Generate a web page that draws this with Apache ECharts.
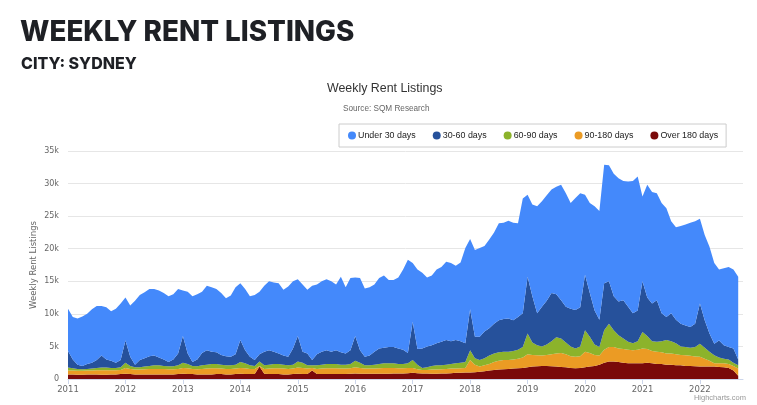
<!DOCTYPE html>
<html>
<head>
<meta charset="utf-8">
<script src="https://cdn.jsdelivr.net/npm/echarts@6/dist/echarts.min.js"></script>
<style>
html,body{margin:0;padding:0;background:#fff;}
#chart{width:757px;height:405px;}
</style>
</head>
<body>
<div id="chart"></div>
<script>
// Monthly readings, Jan 2011 .. Sep 2022
const years = ['2011','2012','2013','2014','2015','2016','2017','2018','2019','2020','2021','2022'];
const months = ['01','02','03','04','05','06','07','08','09','10','11','12'];

const under30 = [
 6500, 6500, 7100, 7600, 7700, 8200, 8300, 7600, 8000, 7600, 8300, 8700,
 6600, 7900, 9800, 10000, 10100, 10300, 10200, 10300, 10200, 10100, 10000, 9900,
 7000, 9500, 10100, 10000, 9400, 9900, 9900, 9700, 9500, 8900, 9400, 10300,
 8700, 9400, 9300, 10000, 9600, 10100, 10600, 10600, 10800, 10100, 10800, 10300,
 8700, 10300, 9800, 11400, 10700, 10800, 10900, 10800, 10100, 11600, 10200, 11100,
 9000, 11100, 10500, 10500, 10300, 10800, 11100, 10300, 10300, 10900, 12300, 14300,
 9000, 12200, 11600, 10600, 10700, 11300, 11500, 12000, 12000, 11400, 12100, 14600,
 10800, 13300, 13600, 13100, 13600, 14000, 14900, 14800, 15000, 15000, 14400, 17600,
 12600, 14100, 16400, 16200, 16200, 15900, 16500, 17700, 17400, 16200, 17200, 17500,
 12300, 13800, 16000, 16700, 18200, 17800, 18800, 18900, 18300, 19200, 20300, 20600,
 13000, 17300, 17100, 16400, 16900, 16700, 14100, 14200, 15000, 15500, 16000, 15700,
 13000, 13100, 13300, 12400, 10900, 11800, 12300, 12100, 12700
];
const d30to60 = [
 2550, 1350, 650, 500, 750, 900, 1200, 1850, 1250, 1100, 800, 1100,
 3400, 1400, 400, 1100, 1300, 1500, 1500, 1200, 1000, 650, 1050, 1800,
 4100, 1600, 600, 1050, 1900, 2200, 1900, 1800, 1500, 1400, 1300, 1600,
 3400, 2000, 1300, 900, 1100, 2100, 2200, 1900, 1600, 1400, 1300, 2500,
 3900, 1700, 1800, 800, 1700, 2000, 2100, 1900, 2100, 1900, 1700, 2100,
 3800, 1900, 1300, 1500, 2000, 2400, 2400, 2500, 2500, 2400, 2200, 1600,
 5900, 2400, 3000, 3200, 3200, 3400, 3600, 3800, 3500, 3600, 3300, 2900,
 6300, 3300, 3600, 4100, 4200, 4600, 4900, 5000, 5100, 4700, 5000, 5200,
 8700, 7100, 4900, 6100, 6700, 7400, 6600, 5900, 5500, 5800, 5900, 6000,
 8500, 6700, 5200, 4200, 7200, 6500, 5200, 5200, 5900, 5400, 4600, 4700,
 7800, 5900, 5800, 6400, 4300, 3500, 4300, 3600, 3500, 3300, 3200, 3600,
 6200, 4200, 2800, 1750, 2600, 2100, 1900, 2200, 900
];
const d60to90 = [
 450, 350, 300, 250, 250, 300, 350, 400, 400, 350, 350, 400,
 800, 450, 350, 350, 400, 450, 550, 550, 450, 450, 450, 550,
 800, 650, 450, 450, 550, 600, 650, 650, 600, 550, 550, 600,
 900, 750, 550, 450, 700, 550, 600, 650, 650, 600, 550, 600,
 950, 800, 500, 400, 550, 600, 650, 650, 650, 600, 600, 650,
 1000, 800, 500, 500, 600, 650, 700, 700, 700, 650, 650, 700,
 1200, 700, 300, 400, 550, 650, 600, 650, 700, 800, 850, 900,
 1500, 1000, 1000, 1100, 1300, 1300, 1300, 1300, 1300, 1300, 1400, 1600,
 3200, 1900, 1550, 1400, 1600, 2000, 2500, 2200, 1800, 1500, 1300, 1500,
 3300, 2500, 1600, 1300, 3000, 3600, 2600, 2000, 1600, 1200, 1100, 1300,
 2500, 2000, 1500, 1500, 1700, 2100, 1900, 1700, 1300, 1250, 1250, 1450,
 2000, 1700, 1400, 1250, 900, 700, 700, 500, 500
];
const d90to180 = [
 600, 600, 600, 600, 600, 600, 650, 700, 700, 650, 650, 650,
 900, 800, 750, 750, 800, 850, 850, 850, 850, 800, 800, 800,
 900, 900, 800, 800, 850, 900, 950, 900, 850, 850, 850, 850,
 900, 900, 800, 800, 100, 750, 850, 900, 900, 900, 850, 850,
 950, 950, 850, 400, 800, 850, 900, 900, 900, 850, 850, 850,
 950, 900, 800, 800, 800, 850, 900, 900, 850, 800, 800, 800,
 750, 600, 550, 550, 650, 650, 650, 700, 700, 650, 700, 700,
 1900, 1150, 800, 900, 1000, 1200, 1350, 1400, 1350, 1400, 1450, 1600,
 2000, 1800, 1700, 1600, 1700, 1850, 2000, 2150, 2000, 1800, 1750, 1800,
 2400, 2100, 1700, 1400, 2000, 2200, 2200, 2100, 2100, 2100, 2000, 2100,
 2300, 2100, 1900, 1900, 1800, 1700, 1700, 1700, 1600, 1650, 1550, 1500,
 1500, 1200, 900, 500, 550, 600, 600, 700, 1100
];
const over180 = [
 700, 700, 650, 650, 700, 700, 700, 650, 650, 700, 700, 750,
 800, 750, 700, 700, 700, 700, 700, 700, 700, 700, 700, 750,
 800, 750, 750, 700, 700, 700, 700, 750, 750, 700, 700, 750,
 800, 750, 750, 750, 1900, 800, 750, 750, 750, 700, 700, 750,
 800, 750, 750, 1300, 750, 750, 750, 750, 750, 750, 750, 800,
 850, 800, 800, 800, 800, 800, 800, 800, 850, 850, 850, 900,
 950, 900, 850, 850, 800, 800, 850, 850, 900, 950, 950, 1000,
 1000, 1050, 1100, 1200, 1300, 1400, 1450, 1500, 1550, 1600, 1650, 1700,
 1800, 1900, 1950, 2000, 2000, 1950, 1900, 1850, 1800, 1700, 1650, 1700,
 1800, 1900, 2000, 2200, 2500, 2700, 2700, 2600, 2500, 2400, 2400, 2400,
 2400, 2500, 2400, 2300, 2300, 2200, 2200, 2100, 2100, 2000, 2000, 1950,
 1900, 1900, 1900, 1900, 1850, 1800, 1700, 1300, 500
];
const yTicks = [0, 5000, 10000, 15000, 20000, 25000, 30000, 35000];

const categories = [];
years.forEach(y => months.forEach(m => categories.push(y + '-' + m)));
const lastCat = categories.indexOf('2022-10');
categories.length = lastCat + 1;

const names = ['Under 30 days', '30-60 days', '60-90 days', '90-180 days', 'Over 180 days'];
const colors = {
  'Under 30 days': '#4489fb',
  '30-60 days': '#26519b',
  '60-90 days': '#8cb32b',
  '90-180 days': '#eb9b24',
  'Over 180 days': '#7a0a0a'
};
const seriesData = [
  ['Over 180 days', over180],
  ['90-180 days', d90to180],
  ['60-90 days', d60to90],
  ['30-60 days', d30to60],
  ['Under 30 days', under30]
];

const chart = echarts.init(document.getElementById('chart'), null, {renderer: 'canvas'});
const font = '"DejaVu Sans", Verdana, sans-serif';
const sans = '"Liberation Sans", Arial, sans-serif';
chart.setOption({
  animation: false,
  backgroundColor: '#ffffff',
  title: [
    {text: 'WEEKLY RENT LISTINGS', left: 15, top: 14,
     textStyle: {fontFamily: 'Inter', fontWeight: 800, fontSize: 27.8, color: '#1e2025'}},
    {text: 'CITY: SYDNEY', left: 16, top: 51,
     textStyle: {fontFamily: 'Inter', fontWeight: 800, fontSize: 16, color: '#1e2025'}},
    {text: 'Weekly Rent Listings', left: 322, top: 78,
     textStyle: {fontFamily: sans, fontWeight: 'normal', fontSize: 12.4, color: '#333333'}},
    {text: 'Source: SQM Research', left: 338, top: 100,
     textStyle: {fontFamily: sans, fontWeight: 'normal', fontSize: 8.2, color: '#666666'}},
    {text: 'Highcharts.com', right: 6, bottom: -2,
     textStyle: {fontFamily: sans, fontWeight: 'normal', fontSize: 7.5, color: '#999999'}}
  ],
  legend: {
    data: names,
    left: 339, top: 124, width: 410,
    icon: 'circle', itemWidth: 8, itemHeight: 8, itemGap: 17,
    padding: [7, 8, 7, 9],
    borderColor: '#cccccc', borderWidth: 1, borderRadius: 0,
    textStyle: {fontFamily: sans, fontSize: 8.9, color: '#222222', padding: [0, 0, 0, -3]}
  },
  grid: {left: 68, right: 14, top: 151, bottom: 26, containLabel: false},
  xAxis: {
    type: 'category',
    data: categories,
    boundaryGap: false,
    axisLine: {lineStyle: {color: '#ccd6eb'}},
    axisTick: {show: true, interval: (i) => i % 12 === 0, length: 5, lineStyle: {color: '#ccd6eb'}},
    axisLabel: {
      interval: (i) => i % 12 === 0,
      formatter: (v) => v.slice(0, 4),
      fontFamily: font, fontSize: 8.5, color: '#666666', margin: 6
    },
    splitLine: {show: false}
  },
  yAxis: {
    type: 'value',
    min: yTicks[0], max: yTicks[yTicks.length - 1], interval: yTicks[1] - yTicks[0],
    name: 'Weekly Rent Listings',
    nameLocation: 'middle', nameRotate: 90, nameGap: 30,
    nameMoveOverlap: false,
    nameTextStyle: {fontFamily: font, fontSize: 8.5, color: '#666666'},
    axisLine: {show: false}, axisTick: {show: false},
    axisLabel: {
      formatter: (v) => v === 0 ? '0' : (v / 1000) + 'k',
      fontFamily: font, fontSize: 8, color: '#666666', margin: 9
    },
    splitLine: {lineStyle: {color: '#e6e6e6', width: 1}}
  },
  series: seriesData.map(([name, data]) => ({
    name, type: 'line', stack: 'total', data,
    symbol: 'none', showSymbol: false,
    lineStyle: {width: 0},
    itemStyle: {color: colors[name]},
    areaStyle: {color: colors[name], opacity: 1}
  }))
});
</script>
</body>
</html>
